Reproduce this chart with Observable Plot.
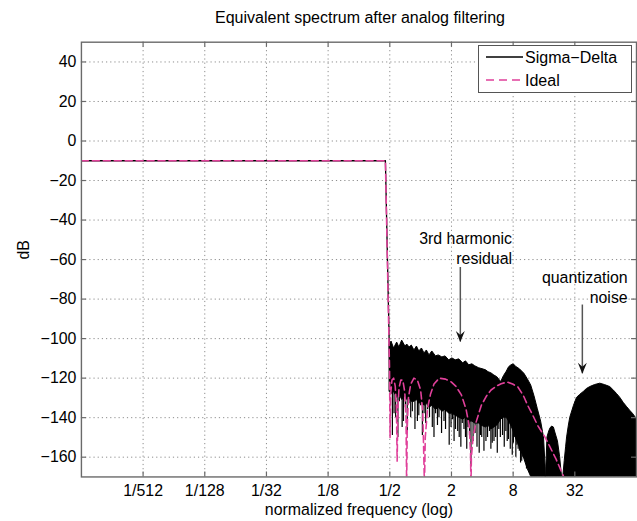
<!DOCTYPE html>
<html><head><meta charset="utf-8">
<script src="https://cdn.jsdelivr.net/npm/d3@7"></script>
<script src="https://cdn.jsdelivr.net/npm/@observablehq/plot@0.6"></script>
<style>
html,body{margin:0;padding:0;background:#fff;overflow:hidden;width:637px;height:521px;}
#wrap{position:relative;width:637px;height:521px;overflow:hidden;font-family:"Liberation Sans",Arial,sans-serif;color:#000;}
#chart{position:absolute;left:0;top:0;}
#title{position:absolute;left:81px;width:558px;top:8px;text-align:center;font-size:16px;line-height:20px;}
#legend{position:absolute;left:478px;top:45px;width:152px;height:46px;border:1px solid #555;background:#fff;}
#legend svg{display:block;font-family:"Liberation Sans",Arial,sans-serif;font-size:16px;}
</style></head>
<body>
<div id="wrap">
  <div id="chart"></div>
  <div id="title">Equivalent spectrum after analog filtering</div>
  <div id="legend"></div>
</div>
<script>
// ---------- data ----------
const xTickValues = [1/512, 1/128, 1/32, 1/8, 1/2, 2, 8, 32];
const xTickLabels = ["1/512", "1/128", "1/32", "1/8", "1/2", "2", "8", "32"];
const yTickValues = [-160, -140, -120, -100, -80, -60, -40, -20, 0, 20, 40];

// Sigma-Delta pass band + transition
const sdF  = [1/2048, 0.453, 0.497, 0.5];
const sdDb = [-10, -10, -110, -125];

// Sigma-Delta noise (main band) : upper / lower envelope of the dense trace
const mainF  = [0.5, 0.52, 0.55, 0.59, 0.62, 0.66, 0.71, 0.74, 0.78, 0.82, 0.87, 0.92, 0.97, 1.03, 1.09, 1.15, 1.22, 1.3, 1.41, 1.5, 1.63, 1.75, 1.9, 2.04, 2.2, 2.38, 2.6, 2.77, 2.98, 3.2, 3.41, 3.73, 3.91, 4.34, 4.6, 4.89, 5.25, 5.6, 6.11, 6.5, 6.92, 7.3, 7.65, 8.1, 8.6, 9.3, 10.3, 11.1, 12.0, 12.9, 13.9, 15.0, 16.0, 16.6];
const mainHi = [-103, -101.5, -105, -102, -104.5, -101, -104, -103, -104.5, -103.5, -106, -104, -106.5, -105, -107.5, -106, -108.5, -106.5, -109, -108.5, -109.5, -109, -111, -110, -111, -110.5, -112.5, -111.5, -113.5, -113, -114, -115, -115.3, -116, -117, -117.5, -118.7, -119.5, -122, -119, -116.8, -114.5, -113.6, -113, -114.4, -115.5, -117.8, -120.5, -123.7, -129, -135.5, -142, -150, -165];
const mainLo = [-127, -128, -127, -130, -128, -131, -129, -131, -130, -132, -132, -131, -133, -132, -134, -133, -135, -134, -136, -135, -137, -136, -138, -138, -139, -140, -141, -140, -142, -142, -143, -143, -144, -145, -144, -146, -145, -144, -141, -140, -140, -142, -144, -147, -151, -155, -161, -166, -170, -170, -170, -170, -170, -170];

// downward spikes of the Sigma-Delta trace
const spikeF  = [0.53, 0.55, 0.57, 0.6, 0.62, 0.66, 0.68, 0.71, 0.74, 0.77, 0.8, 0.83, 0.88, 0.93, 0.96, 1.0, 1.04, 1.08, 1.12, 1.17, 1.22, 1.3, 1.35, 1.4, 1.46, 1.51, 1.6, 1.69, 1.75, 1.8, 1.9, 1.98, 2.05, 2.12, 2.19, 2.3, 2.38, 2.47, 2.55, 2.65, 2.74, 2.82, 2.9, 3.0, 3.1, 3.25, 3.4, 3.55, 3.73, 3.85, 3.95, 4.15, 4.34, 4.5, 4.7, 4.85, 5.0, 5.2, 5.4, 5.6, 5.8, 6.0, 6.3, 6.55, 6.79, 7.0, 7.2, 7.5, 7.84, 8.05, 8.3, 8.5, 8.7, 8.95, 9.2, 9.45, 9.7, 10.0, 10.4, 10.8, 11.1, 11.3, 11.5];
const spikeDb = [-149, -138, -140, -150, -132, -145, -142, -135, -148, -133, -140, -137, -146, -142, -139, -134, -149, -138, -143, -136, -140, -145, -150, -138, -144, -140, -148, -142, -146, -137, -154, -145, -141, -152, -146, -147, -150, -155, -143, -146, -150, -156, -145, -149, -165, -152, -148, -155, -158, -149, -150, -157, -152, -150, -147, -156, -153, -152, -150, -158, -146, -150, -149, -155, -147, -152, -151, -156, -159, -153, -150, -160, -154, -156, -157, -163, -162, -160, -158, -166, -164, -165, -167];

// small hump after the main band
const smallF  = [16.75, 17.3, 18.0, 18.5, 19.2, 20.0, 20.5, 21.9, 23.0, 24.0];
const smallDb = [-170, -150, -147, -145.5, -144.5, -145, -147, -152, -160, -170];

// quantization noise hump
const bigF  = [24.7, 25.5, 26.3, 26.9, 28.0, 28.9, 31.4, 33.6, 36, 39.1, 42, 45.3, 50.4, 56.7, 63, 70.9, 76, 82.5, 89, 95.9, 103, 111, 118, 126, 130];
const bigDb = [-170, -162, -155, -150, -144, -140, -134, -130, -128.5, -127, -125.5, -124.5, -123.5, -122.8, -123.5, -124.5, -126, -128, -130, -132.5, -134.5, -136.5, -138, -140, -141];

// Ideal response
const idealF  = [1/2048, 0.453, 0.497, 0.503, 0.51, 0.525, 0.545, 0.565, 0.58, 0.59, 0.60, 0.615, 0.64, 0.67, 0.70, 0.72, 0.73, 0.74, 0.76, 0.8, 0.86, 0.93, 1.0, 1.05, 1.09, 1.11, 1.17, 1.25, 1.35, 1.52, 1.75, 2.0, 2.2, 2.5, 2.77, 2.98, 3.07, 3.1, 3.13, 3.25, 3.49, 3.91, 4.4, 4.87, 5.5, 6.11, 7.0, 7.9, 8.9, 10, 11.1, 12.5, 13.9, 16, 18, 21, 25, 27];
const idealDb = [-10, -10, -115, -150, -128, -121, -120, -124, -135, -162, -135, -125, -121, -121, -127, -140, -175, -145, -130, -123, -120, -121, -126, -137, -175, -150, -135, -128, -123, -120, -120.5, -122, -124, -128.5, -135.5, -144, -158, -175, -160, -150, -142, -133.8, -129, -126, -124, -122.8, -122, -123, -124.5, -128.5, -133.8, -139, -144, -149, -154, -161, -170, -175];

// annotations
const annoText = ["3rd harmonic\nresidual", "quantization\nnoise"];
const annoX = [7.8, 105];
const annoY = [-54.1, -73.7];
const arrowX = [2.44, 37.9];
const arrowFrom = [-64, -83];
const arrowTo = [-101.7, -117.8];

const seriesNames = ["Sigma\u2212Delta", "Ideal"];

// ---------- chart ----------
const W = 640, H = 521, mL = 81.3, mR = 1, mT = 41.9, mB = 42.3;
const fw = W - mL - mR, fh = H - mT - mB;
const tickLen = 5;
const frameColor = "#6a6a6a";
const pink = "#e0409a";
const labelOf = new Map(xTickValues.map((v, i) => [v, xTickLabels[i]]));

const arrowHead = {
  draw(ctx) {
    ctx.moveTo(0, 0);
    ctx.lineTo(-4.5, -11);
    ctx.lineTo(0, -7);
    ctx.lineTo(4.5, -11);
    ctx.closePath();
  }
};

const gridStyle = {stroke: "#8c8c8c", strokeOpacity: 1, strokeWidth: 1, strokeDasharray: "1.2,3"};

const chart = Plot.plot({
  width: W, height: H,
  marginLeft: mL, marginRight: mR, marginTop: mT, marginBottom: mB,
  style: "font-family: 'Liberation Sans', Arial, sans-serif; font-size: 16px; color: #000; background: #fff;",
  x: {type: "log", base: 2, domain: [2 ** -11, 2 ** 7]},
  y: {domain: [-170, 50]},
  marks: [
    Plot.gridX(xTickValues, gridStyle),
    Plot.gridY(yTickValues, gridStyle),
    // Sigma-Delta
    Plot.areaY(mainF, {x: mainF, y1: mainLo, y2: mainHi, fill: "#000", stroke: "#000", strokeWidth: 1, clip: true}),
    Plot.ruleX(spikeF, {x: spikeF, y1: -124, y2: spikeDb, stroke: "#000", strokeWidth: 1.2, clip: true}),
    Plot.areaY(smallF, {x: smallF, y1: -170, y2: smallDb, fill: "#000", stroke: "#000", strokeWidth: 1, clip: true}),
    Plot.areaY(bigF, {x: bigF, y1: -170, y2: bigDb, fill: "#000", stroke: "#000", strokeWidth: 1, clip: true}),
    Plot.line(sdF, {x: sdF, y: sdDb, stroke: "#000", strokeWidth: 1.3, clip: true}),
    // Ideal
    Plot.line(idealF, {x: idealF, y: idealDb, stroke: pink, strokeWidth: 1.6, strokeDasharray: "7,4", clip: true}),
    // inward ticks
    Plot.tickX(xTickValues, {x: d => d, insetTop: fh - tickLen, stroke: frameColor, strokeWidth: 1.2}),
    Plot.tickX(xTickValues, {x: d => d, insetBottom: fh - tickLen, stroke: frameColor, strokeWidth: 1.2}),
    Plot.tickY(yTickValues, {y: d => d, insetRight: fw - tickLen, stroke: frameColor, strokeWidth: 1.2}),
    Plot.tickY(yTickValues, {y: d => d, insetLeft: fw - tickLen, stroke: frameColor, strokeWidth: 1.2}),
    Plot.frame({stroke: frameColor, strokeWidth: 1.4}),
    Plot.axisX(xTickValues, {tickSize: 0, tickPadding: 8, tickFormat: d => labelOf.get(d), label: null, fill: "#000"}),
    Plot.axisY(yTickValues, {tickSize: 0, tickPadding: 5, label: null, fill: "#000"}),
    Plot.text(["dB"], {frameAnchor: "left", dx: -58, rotate: -90, fontSize: 16, fill: "#000"}),
    Plot.text(["normalized frequency (log)"], {frameAnchor: "bottom", dy: 33, lineAnchor: "middle", fontSize: 16, fill: "#000"}),
    // annotations
    Plot.text(annoText, {x: annoX, y: annoY, text: annoText, textAnchor: "end", lineAnchor: "middle", lineHeight: 1.25, fontSize: 16, fill: "#000"}),
    Plot.ruleX(arrowX, {x: arrowX, y1: arrowFrom, y2: arrowTo, stroke: "#555", strokeWidth: 1.5}),
    Plot.dot(arrowX, {x: arrowX, y: arrowTo, symbol: arrowHead, fill: "#111", stroke: "none", r: 5})
  ]
});
document.getElementById("chart").appendChild(chart);

// legend
const legend = d3.select("#legend").append("svg").attr("width", 152).attr("height", 46);
const rows = [
  {name: seriesNames[0], stroke: "#000", dash: null, w: 1.3},
  {name: seriesNames[1], stroke: pink, dash: "8,5", w: 1.6}
];
rows.forEach((r, i) => {
  const cy = 11 + i * 23;
  legend.append("line").attr("x1", 7).attr("x2", 44).attr("y1", cy).attr("y2", cy)
    .attr("stroke", r.stroke).attr("stroke-width", r.w).attr("stroke-dasharray", r.dash);
  legend.append("text").attr("x", 46).attr("y", cy).attr("dy", "0.35em").attr("fill", "#000").text(r.name);
});
</script>
</body></html>
